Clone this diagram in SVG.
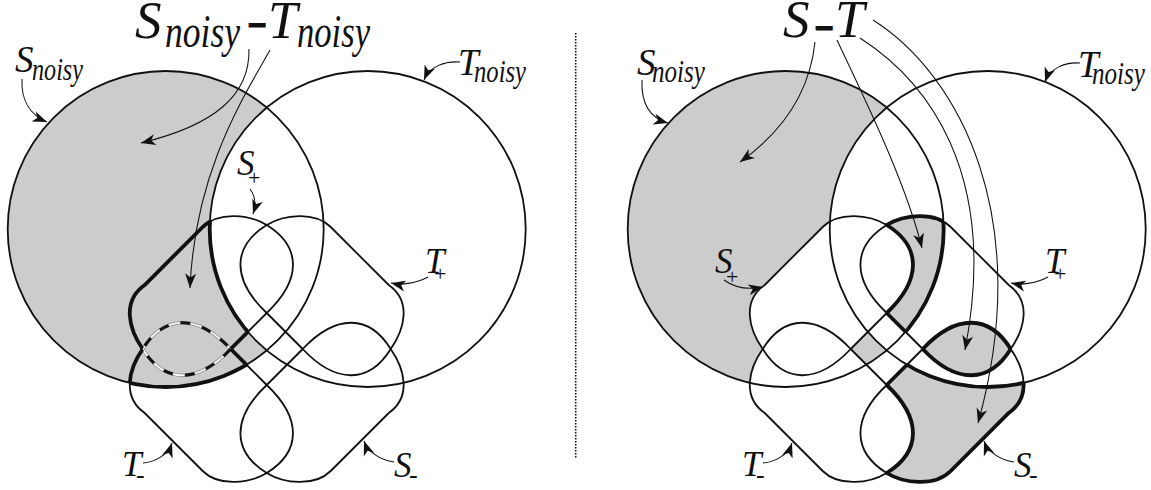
<svg xmlns="http://www.w3.org/2000/svg" xmlns:xlink="http://www.w3.org/1999/xlink" width="1151" height="490" viewBox="0 0 1151 490">
<style>
.ln{fill:none;stroke:#111;stroke-width:1.8}
.tk{fill:none;stroke:#111;stroke-width:3.8}
.ar{fill:none;stroke:#111;stroke-width:1.05;marker-end:url(#ah)}
</style>
<defs>
<marker id="ah" markerUnits="userSpaceOnUse" viewBox="-16 -8 17 16" markerWidth="17" markerHeight="16" refX="0" refY="0" orient="auto">
<path d="M0,0 L-14.5,-5.5 L-10.5,0 L-14.5,5.5 Z" fill="#111"/>
</marker>
<path id="sp" d="M0,-124 C34,-103 36,-70 0,-36 L-36,0 C-70,36 -103,34 -124,0 C-138,-20 -145,-48 -122,-64 L-64,-122 C-48,-138 -17,-134.5 0,-124 Z"/>
<use id="tp" xlink:href="#sp" href="#sp" transform="scale(-1,1)"/>
<use id="tm" xlink:href="#sp" href="#sp" transform="scale(1,-1)"/>
<use id="sm" xlink:href="#sp" href="#sp" transform="scale(-1,-1)"/>
<circle id="cs" cx="-101" cy="-120" r="158"/>
<circle id="ct" cx="101" cy="-120" r="158"/>
<path id="outT" fill-rule="evenodd" d="M-400,-500 H400 V200 H-400 Z M259,-120 A158,158 0 1,0 -57,-120 A158,158 0 1,0 259,-120 Z"/>
<path id="outS" fill-rule="evenodd" d="M-400,-500 H400 V200 H-400 Z M57,-120 A158,158 0 1,0 -259,-120 A158,158 0 1,0 57,-120 Z"/>
<rect id="bg" x="-400" y="-500" width="800" height="700"/>
<path id="spOpen" d="M-124,0 C-138,-20 -145,-48 -122,-64 L-64,-122 C-48,-138 -17,-134.5 0,-124 C34,-103 36,-70 0,-36 L-36,0"/>
<path id="tmOpen" d="M-124,0 C-138,20 -145,48 -122,64 L-64,122 C-48,138 -17,134.5 0,124 C34,103 36,70 0,36 L-36,0"/>
<path id="lobe" d="M-36,0 C-70,36 -103,34 -124,0 C-103,-34 -70,-36 -36,0 Z"/>

<mask id="mCres" maskUnits="userSpaceOnUse" x="-400" y="-500" width="800" height="700">
<use href="#bg" fill="#000"/><use href="#cs" fill="#fff"/><use href="#ct" fill="#000"/>
</mask>
<mask id="mS" maskUnits="userSpaceOnUse" x="-400" y="-500" width="800" height="700">
<use href="#bg" fill="#000"/><use href="#cs" fill="#fff"/><use href="#sp" fill="#000"/><use href="#sm" fill="#fff"/>
</mask>
<mask id="mNT" maskUnits="userSpaceOnUse" x="-400" y="-500" width="800" height="700">
<use href="#bg" fill="#fff"/><use href="#ct" fill="#000"/><use href="#tp" fill="#fff"/><use href="#tm" fill="#000"/>
</mask>
<mask id="mRsp" maskUnits="userSpaceOnUse" x="-400" y="-500" width="800" height="700">
<use href="#bg" fill="#000"/><use href="#tp" fill="#fff"/>
</mask>
<mask id="mRsm" maskUnits="userSpaceOnUse" x="-400" y="-500" width="800" height="700">
<use href="#bg" fill="#fff"/><use href="#ct" fill="#000"/><use href="#tp" fill="#fff"/><use href="#cs" fill="#000"/><use href="#tm" fill="#000"/>
</mask>
<mask id="mRtp" maskUnits="userSpaceOnUse" x="-400" y="-500" width="800" height="700">
<use href="#bg" fill="#000"/><use href="#cs" fill="#fff"/><use href="#sp" fill="#000"/><use href="#sm" fill="#fff"/><use href="#outT" fill="#000"/><use href="#tm" fill="#000"/>
</mask>
<mask id="mRtm" maskUnits="userSpaceOnUse" x="-400" y="-500" width="800" height="700">
<use href="#bg" fill="#000"/><use href="#sm" fill="#fff"/><use href="#ct" fill="#000"/><use href="#cs" fill="#000"/>
</mask>
<mask id="mRcs" maskUnits="userSpaceOnUse" x="-400" y="-500" width="800" height="700">
<use href="#bg" fill="#000"/><use href="#tp" fill="#fff"/><use href="#outT" fill="#000"/><use href="#sp" fill="#000"/><use href="#tm" fill="#000"/>
</mask>
<mask id="mRct" maskUnits="userSpaceOnUse" x="-400" y="-500" width="800" height="700">
<use href="#bg" fill="#000"/><use href="#sm" fill="#fff"/><use href="#tp" fill="#000"/><use href="#tm" fill="#000"/><use href="#cs" fill="#000"/>
</mask>
<mask id="mLsp" maskUnits="userSpaceOnUse" x="-400" y="-500" width="800" height="700">
<use href="#bg" fill="#000"/><use href="#cs" fill="#fff"/><use href="#ct" fill="#000"/><use href="#tm" fill="#000"/>
</mask>
<mask id="mLtm" maskUnits="userSpaceOnUse" x="-400" y="-500" width="800" height="700">
<use href="#bg" fill="#000"/><use href="#cs" fill="#fff"/><use href="#ct" fill="#000"/><use href="#sp" fill="#000"/>
</mask>
<mask id="mLcs" maskUnits="userSpaceOnUse" x="-400" y="-500" width="800" height="700">
<use href="#bg" fill="#000"/><use href="#sp" fill="#fff"/><use href="#tm" fill="#fff"/><use href="#ct" fill="#000"/>
</mask>
<mask id="mLct" maskUnits="userSpaceOnUse" x="-400" y="-500" width="800" height="700">
<use href="#bg" fill="#000"/><use href="#sp" fill="#fff"/><use href="#tm" fill="#fff"/><use href="#outS" fill="#000"/>
</mask>
</defs>

<rect width="1151" height="490" fill="#fff"/>

<!-- LEFT PANEL -->
<g id="left-panel" transform="translate(266.7,349)">
  <use id="left-gray" href="#bg" fill="#cccccc" mask="url(#mCres)"/>
  <g id="left-Snoisy"><use href="#cs" class="ln"/></g>
  <g id="left-Tnoisy"><use href="#ct" class="ln"/></g>
  <g id="left-Tplus"><use href="#tp" class="ln"/></g>
  <g id="left-Sminus"><use href="#sm" class="ln"/></g>
  <g id="left-Splus"><use href="#spOpen" class="ln"/></g>
  <g id="left-Tminus"><use href="#tmOpen" class="ln"/></g>
  <g id="left-lobe">
    <use href="#lobe" fill="none" stroke="#9a9a9a" stroke-width="3.4"/>
    <use href="#lobe" fill="none" stroke="#ffffff" stroke-width="1.7"/>
    <use href="#lobe" fill="none" stroke="#111" stroke-width="3" stroke-dasharray="10 12"/>
  </g>
  <g id="left-thick">
    <use href="#spOpen" class="tk" mask="url(#mLsp)"/>
    <use href="#tmOpen" class="tk" mask="url(#mLtm)"/>
    <use href="#cs" class="tk" mask="url(#mLcs)"/>
    <use href="#ct" class="tk" mask="url(#mLct)"/>
  </g>
</g>

<!-- RIGHT PANEL -->
<g id="right-panel" transform="translate(886.7,349)">
  <g mask="url(#mNT)"><use id="right-gray" href="#bg" fill="#cccccc" mask="url(#mS)"/></g>
  <g id="right-Snoisy"><use href="#cs" class="ln"/></g>
  <g id="right-Tnoisy"><use href="#ct" class="ln"/></g>
  <g id="right-Splus"><use href="#sp" class="ln"/></g>
  <g id="right-Tplus"><use href="#tp" class="ln"/></g>
  <g id="right-Tminus"><use href="#tm" class="ln"/></g>
  <g id="right-Sminus"><use href="#sm" class="ln"/></g>
  <g id="right-thick">
    <use href="#sp" class="tk" mask="url(#mRsp)"/>
    <use href="#sm" class="tk" mask="url(#mRsm)"/>
    <use href="#tp" class="tk" mask="url(#mRtp)"/>
    <use href="#tm" class="tk" mask="url(#mRtm)"/>
    <use href="#cs" class="tk" mask="url(#mRcs)"/>
    <use href="#ct" class="tk" mask="url(#mRct)"/>
  </g>
</g>

<!-- divider -->
<line id="divider" x1="575.7" y1="33" x2="575.7" y2="458" stroke="#111" stroke-width="1.6" stroke-dasharray="1.5 1.5"/>

<!-- connectors -->
<g id="connectors">
  <path class="ar" d="M22,79 C21,100 30,115 47,122"/>
  <path class="ar" d="M460,62 C445,61 430,66 424,80"/>
  <path class="ar" d="M249,49 C250,95 215,125 141,143"/>
  <path class="ar" d="M270,50 C245,95 195,170 190,288"/>
  <path class="ar" d="M250,189 C256,197 256,205 253,214"/>
  <path class="ar" d="M428,277 C415,284 400,285 391,283"/>
  <path class="ar" d="M143,463 C155,462 168,455 172,443"/>
  <path class="ar" d="M394,462 C380,460 368,452 364,441"/>

  <path class="ar" d="M642,80 C641,103 650,118 668,123"/>
  <path class="ar" d="M1080,63 C1065,62 1050,68 1045,82"/>
  <path class="ar" d="M815,42 C810,90 785,130 740,162"/>
  <path class="ar" d="M837,40 C865,100 905,180 922,248"/>
  <path class="ar" d="M860,38 C925,80 1000,170 965,350"/>
  <path class="ar" d="M873,20 C960,75 1035,220 978,423"/>
  <path class="ar" d="M724,280 C735,288 748,290 763,287"/>
  <path class="ar" d="M1048,277 C1035,284 1020,285 1011,283"/>
  <path class="ar" d="M763,463 C775,462 788,455 792,443"/>
  <path class="ar" d="M1014,462 C1000,460 988,452 984,441"/>
</g>

<!-- labels -->
<g id="labels" font-family="Liberation Serif, Times New Roman, serif" fill="#111">
  <g font-style="italic">
    <g id="title-left">
      <text x="135" y="38" font-size="53">S</text>
      <text x="165" y="47" font-size="46" textLength="75" lengthAdjust="spacingAndGlyphs">noisy</text>
      <text x="268" y="38" font-size="53">T</text>
      <text x="297" y="47" font-size="46" textLength="73" lengthAdjust="spacingAndGlyphs">noisy</text>
    </g>
    <g id="title-right">
      <text x="783" y="37" font-size="53">S</text>
      <text x="835" y="37" font-size="53">T</text>
    </g>
    <g id="lbl-left-Snoisy"><text x="15" y="72" font-size="37">S</text><text x="32" y="80" font-size="32" textLength="51" lengthAdjust="spacingAndGlyphs">noisy</text></g>
    <g id="lbl-left-Tnoisy"><text x="458" y="75" font-size="37">T</text><text x="474" y="82" font-size="32" textLength="52" lengthAdjust="spacingAndGlyphs">noisy</text></g>
    <g id="lbl-right-Snoisy"><text x="637" y="75" font-size="37">S</text><text x="652" y="82" font-size="32" textLength="53" lengthAdjust="spacingAndGlyphs">noisy</text></g>
    <g id="lbl-right-Tnoisy"><text x="1078" y="77" font-size="37">T</text><text x="1092" y="84" font-size="32" textLength="53" lengthAdjust="spacingAndGlyphs">noisy</text></g>
    <text x="237" y="175" font-size="35">S</text>
    <text x="425" y="273" font-size="35">T</text>
    <text x="122" y="476" font-size="35">T</text>
    <text x="394" y="477" font-size="35">S</text>
    <text x="715" y="273" font-size="35">S</text>
    <text x="1045" y="273" font-size="35">T</text>
    <text x="742" y="476" font-size="35">T</text>
    <text x="1014" y="477" font-size="35">S</text>
  </g>
  <g id="minus-signs" font-family="Liberation Sans, Arial, sans-serif" font-weight="bold" stroke="#111" stroke-width="1">
    <text x="248" y="36" font-size="32">−</text>
    <text x="815" y="39" font-size="32">−</text>
  </g>
  <g id="subscripts">
    <text x="248" y="185" font-size="22">+</text>
    <text x="434" y="281" font-size="22">+</text>
    <text x="136" y="483" font-size="26">-</text>
    <text x="409" y="483" font-size="26">-</text>
    <text x="726" y="284" font-size="22">+</text>
    <text x="1054" y="281" font-size="22">+</text>
    <text x="756" y="483" font-size="26">-</text>
    <text x="1029" y="483" font-size="26">-</text>
  </g>
</g>
</svg>
